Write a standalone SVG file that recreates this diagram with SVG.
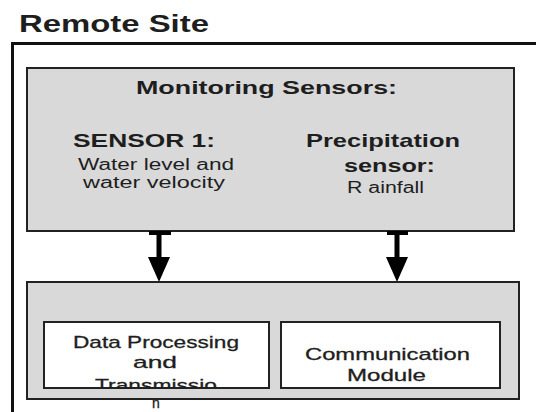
<svg xmlns="http://www.w3.org/2000/svg" width="536" height="412" viewBox="0 0 536 412">
<style>
.t{font-family:"Liberation Sans",Arial,sans-serif;fill:#1e1e1e}
.b{font-weight:bold}
.panel{fill:#d9d9d9;stroke:#222;stroke-width:2}
.box{fill:#ffffff;stroke:#222;stroke-width:2}
.arrow{fill:#000}
</style>
<defs>
<clipPath id="dpclip"><rect x="44" y="322" width="225" height="66"/></clipPath>
</defs>
<rect x="0" y="0" width="536" height="412" fill="#ffffff"/>
<g id="remote-site">
<rect x="12.5" y="43.5" width="540" height="400" fill="none" stroke="#111" stroke-width="3"/>
<text class="t b" x="19" y="32" font-size="23" textLength="190" lengthAdjust="spacingAndGlyphs">Remote Site</text>
</g>
<g id="monitoring-sensors">
<rect class="panel" x="27" y="68" width="487" height="163"/>
<text class="t b" x="136" y="94" font-size="18" textLength="261" lengthAdjust="spacingAndGlyphs">Monitoring  Sensors:</text>
</g>
<g id="sensor-1">
<text class="t b" x="73" y="147" font-size="19" textLength="142" lengthAdjust="spacingAndGlyphs">SENSOR 1:</text>
<text class="t" x="78" y="170" font-size="16" textLength="156" lengthAdjust="spacingAndGlyphs">Water level and</text>
<text class="t" x="83" y="188" font-size="16" textLength="142" lengthAdjust="spacingAndGlyphs">water velocity</text>
</g>
<g id="precipitation-sensor">
<text class="t b" x="306" y="147" font-size="19" textLength="154" lengthAdjust="spacingAndGlyphs">Precipitation</text>
<text class="t b" x="344" y="172" font-size="19" textLength="91" lengthAdjust="spacingAndGlyphs">sensor:</text>
<text class="t" x="347" y="193" font-size="16" textLength="77" lengthAdjust="spacingAndGlyphs">R ainfall</text>
</g>
<g id="connectors">
<rect class="arrow" x="149" y="231" width="22" height="4"/>
<rect class="arrow" x="156.5" y="231" width="5" height="28"/>
<polygon class="arrow" points="148,257 170,257 159,282"/>
<rect class="arrow" x="387" y="231" width="21" height="4"/>
<rect class="arrow" x="394.5" y="231" width="5" height="28"/>
<polygon class="arrow" points="386,257 408,257 397,282"/>
</g>
<g id="processing-unit">
<rect class="panel" x="27" y="282" width="492" height="117"/>
</g>
<g id="data-processing">
<rect class="box" x="44" y="322" width="225" height="66"/>
<text class="t" x="73" y="348" font-size="17" stroke="#1e1e1e" stroke-width="0.3" textLength="166" lengthAdjust="spacingAndGlyphs">Data Processing</text>
<text class="t" x="133" y="368" font-size="17" stroke="#1e1e1e" stroke-width="0.3" textLength="44" lengthAdjust="spacingAndGlyphs">and</text>
<text class="t" x="95" y="391" font-size="17" stroke="#1e1e1e" stroke-width="0.3" textLength="122" lengthAdjust="spacingAndGlyphs" clip-path="url(#dpclip)">Transmissio</text>
<text class="t" x="152" y="408" font-size="14" stroke="#1e1e1e" stroke-width="0.3">n</text>
</g>
<g id="communication-module">
<rect class="box" x="281" y="322" width="219" height="66"/>
<text class="t" x="305" y="360" font-size="17" stroke="#1e1e1e" stroke-width="0.3" textLength="165" lengthAdjust="spacingAndGlyphs">Communication</text>
<text class="t" x="347" y="381" font-size="17" stroke="#1e1e1e" stroke-width="0.3" textLength="79" lengthAdjust="spacingAndGlyphs">Module</text>
</g>
</svg>
